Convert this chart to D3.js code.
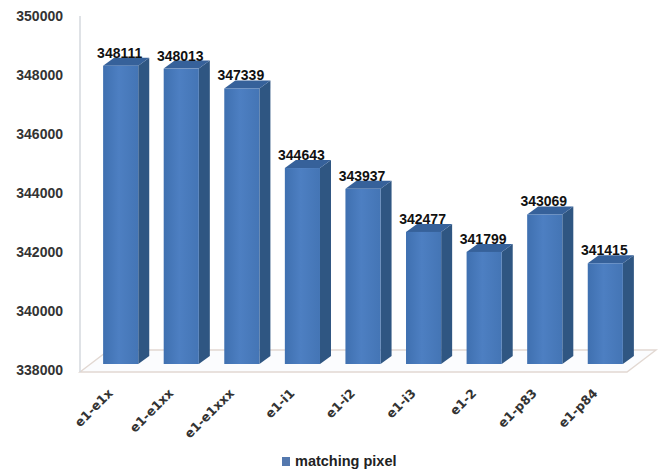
<!DOCTYPE html>
<html>
<head>
<meta charset="utf-8">
<script src="https://cdn.jsdelivr.net/npm/d3@7"></script>
<style>
    html, body { margin: 0; padding: 0; background: #fff; }
    text { font-family: "Liberation Sans", sans-serif; fill: #222; }
</style>
</head>
<body>
<div id="chart"></div>
<script>
var categories = ["e1-e1x", "e1-e1xx", "e1-e1xxx", "e1-i1", "e1-i2", "e1-i3", "e1-2", "e1-p83", "e1-p84"];
var values = [348111, 348013, 347339, 344643, 343937, 342477, 341799, 343069, 341415];
var yTicks = [338000, 340000, 342000, 344000, 346000, 348000, 350000];
var seriesName = "matching pixel";

var width = 670, height = 472;

// 3D offsets of the box: how far the depth runs right and up
var depth = {x: 11, y: 8};
var floorDepth = {x: 29, y: 22};
var barLift = 6;

var x = d3.scaleBand()
    .domain(categories)
    .range([91, 635])
    .paddingInner(0.42)
    .paddingOuter(0.2);
var y = d3.scaleLinear()
    .domain([338000, 350000])
    .range([370, 16]);

var svg = d3.select("#chart")
    .append("svg")
    .attr("width", width)
    .attr("height", height)
    .style("display", "block");

var defs = svg.append("defs");
var frontFill = defs.append("linearGradient").attr("id", "front");
frontFill.append("stop").attr("offset", "0%").attr("stop-color", "#3f70b0");
frontFill.append("stop").attr("offset", "45%").attr("stop-color", "#4d7fc2");
frontFill.append("stop").attr("offset", "100%").attr("stop-color", "#4475b5");

// floor of the box
var floorLeft = 80, floorRight = 627, floorY = 372;
svg.append("path")
    .attr("d", `M${floorLeft},${floorY}L${floorRight},${floorY}L${floorRight + floorDepth.x},${floorY - floorDepth.y}L${floorLeft + floorDepth.x},${floorY - floorDepth.y}Z`)
    .attr("fill", "#fbfcfe")
    .attr("stroke", "#e2d8d2")
    .attr("stroke-width", 1.4);
svg.append("line")
    .attr("x1", floorLeft).attr("x2", floorLeft)
    .attr("y1", y(350000)).attr("y2", floorY)
    .attr("stroke", "#d4d8de")
    .attr("stroke-width", 1.5);

var yAxis = d3.axisLeft(y)
    .tickValues(yTicks)
    .tickSize(0)
    .tickPadding(0)
    .tickFormat(d3.format("d"));
var yG = svg.append("g")
    .attr("transform", "translate(63,0)")
    .call(yAxis);
yG.select(".domain").remove();
yG.selectAll("text")
    .attr("font-size", 14)
    .attr("font-weight", "bold")
    .style("fill", "#333");

var bars = svg.selectAll(".bar")
    .data(categories.map(function(c, i) { return {name: c, value: values[i]}; }))
    .enter().append("g")
    .attr("class", "bar");

// side face
bars.append("path")
    .attr("fill", "#2f5682")
    .attr("d", function(d) {
        var r = x(d.name) + x.bandwidth(), t = y(d.value) - barLift, b = y(338000) - barLift;
        return `M${r},${t}L${r + depth.x},${t - depth.y}L${r + depth.x},${b - depth.y}L${r},${b}Z`;
    });
// top face
bars.append("path")
    .attr("fill", "#36619a")
    .attr("d", function(d) {
        var l = x(d.name), r = l + x.bandwidth(), t = y(d.value) - barLift;
        return `M${l},${t}L${l + depth.x},${t - depth.y}L${r + depth.x},${t - depth.y}L${r},${t}Z`;
    });
// front face
bars.append("rect")
    .attr("fill", "url(#front)")
    .attr("x", function(d) { return x(d.name); })
    .attr("y", function(d) { return y(d.value) - barLift; })
    .attr("width", x.bandwidth())
    .attr("height", function(d) { return y(338000) - y(d.value); });

bars.append("text")
    .attr("x", function(d) { return x(d.name) + x.bandwidth() / 2 - 1; })
    .attr("y", function(d) { return y(d.value) - barLift - depth.y; })
    .attr("text-anchor", "middle")
    .attr("font-size", 14)
    .attr("font-weight", "bold")
    .style("fill", "#111")
    .text(function(d) { return d.value; });

// category labels, turned 45 degrees and ending under each bar
svg.selectAll(".cat")
    .data(categories)
    .enter().append("text")
    .attr("class", "cat")
    .attr("text-anchor", "end")
    .attr("font-size", 12.5)
    .attr("font-weight", "bold")
    .style("font-family", '"DejaVu Sans", sans-serif')
    .style("fill", "#333")
    .attr("transform", function(d) {
        return `translate(${x(d) + x.bandwidth() / 2 - 7},394) rotate(-45)`;
    })
    .text(function(d) { return d; });

// legend
svg.append("rect")
    .attr("x", 282).attr("y", 457).attr("width", 8).attr("height", 9)
    .attr("fill", "#5478ae");
svg.append("text")
    .attr("x", 295).attr("y", 466)
    .attr("font-size", 14.5)
    .attr("font-weight", "bold")
    .text(seriesName);
</script>
</body>
</html>
